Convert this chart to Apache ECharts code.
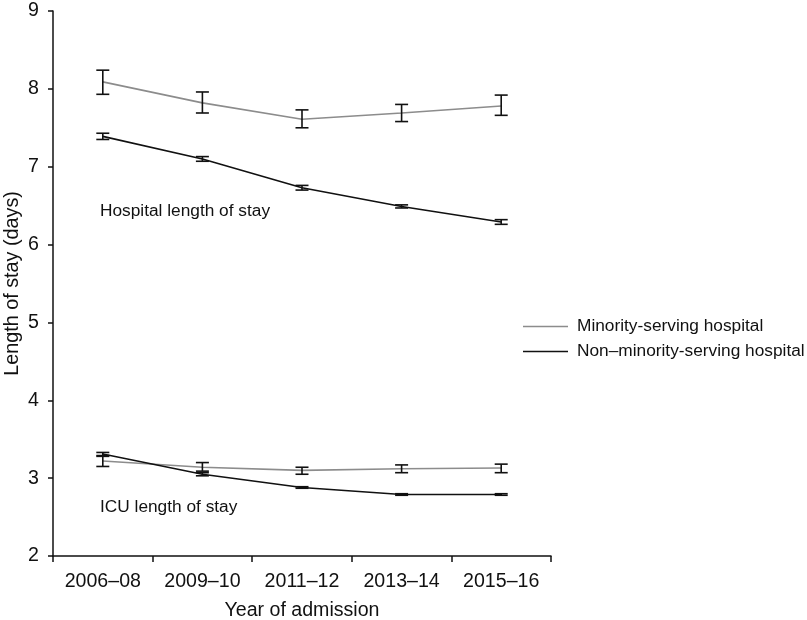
<!DOCTYPE html>
<html><head><meta charset="utf-8">
<script src="https://cdn.jsdelivr.net/npm/echarts@6/dist/echarts.min.js"></script>
<style>html,body{margin:0;padding:0;background:#fff}#c{width:807px;height:620px}</style>
</head><body><div id="c"></div>
<script>
const categories = ['2006–08','2009–10','2011–12','2013–14','2015–16'];
const yTicks = [2,3,4,5,6,7,8,9];
const minorityHosp = [8.09, 7.82, 7.61, 7.69, 7.78];
const minorityHospLow = [7.93, 7.69, 7.50, 7.58, 7.66];
const minorityHospHigh = [8.24, 7.96, 7.73, 7.80, 7.92];
const nonMinHosp = [7.39, 7.10, 6.73, 6.49, 6.29];
const nonMinHospLow = [7.35, 7.07, 6.70, 6.47, 6.26];
const nonMinHospHigh = [7.43, 7.13, 6.76, 6.51, 6.32];
const minorityICU = [3.22, 3.14, 3.10, 3.12, 3.13];
const minorityICULow = [3.15, 3.09, 3.05, 3.07, 3.07];
const minorityICUHigh = [3.29, 3.20, 3.14, 3.17, 3.18];
const nonMinICU = [3.31, 3.05, 2.88, 2.79, 2.79];
const nonMinICULow = [3.28, 3.03, 2.87, 2.78, 2.78];
const nonMinICUHigh = [3.33, 3.07, 2.89, 2.80, 2.80];

const FONT = 'Liberation Sans, Arial, sans-serif';
const chart = echarts.init(document.getElementById('c'));

function errSeries(low, high) {
  return {
    type: 'custom', z: 5,
    data: categories.map((c, i) => [i, low[i], high[i]]),
    renderItem: function (params, api) {
      const lo = api.coord([api.value(0), api.value(1)]);
      const hi = api.coord([api.value(0), api.value(2)]);
      const w = 6.5;
      const st = { stroke: '#111', lineWidth: 1.6, fill: null };
      return { type: 'group', children: [
        { type: 'line', shape: { x1: lo[0], y1: lo[1], x2: hi[0], y2: hi[1] }, style: st },
        { type: 'line', shape: { x1: lo[0]-w, y1: lo[1], x2: lo[0]+w, y2: lo[1] }, style: st },
        { type: 'line', shape: { x1: hi[0]-w, y1: hi[1], x2: hi[0]+w, y2: hi[1] }, style: st }
      ]};
    }
  };
}
function lineSeries(name, data, color) {
  return { type: 'line', name: name, data: data, symbol: 'none', z: 3,
    lineStyle: { color: color, width: 1.6 }, itemStyle: { color: color } };
}

chart.setOption({
  animation: false,
  grid: { left: 53, right: 256, top: 11, bottom: 64, containLabel: false, outerBoundsMode: 'none' },
  legend: {
    data: [
      { name: 'Minority-serving hospital', icon: 'rect', itemStyle: { color: '#8c8c8c' } },
      { name: 'Non–minority-serving hospital', icon: 'rect', itemStyle: { color: '#111' } }
    ],
    orient: 'vertical', left: 523, top: 318, padding: 0,
    itemWidth: 45, itemHeight: 1.6, itemGap: 8,
    textStyle: { fontFamily: FONT, fontSize: 17.3, color: '#111', padding: [0,0,0,4] }
  },
  xAxis: {
    type: 'category', data: categories, boundaryGap: true,
    name: 'Year of admission', nameLocation: 'middle', nameGap: 45, nameMoveOverlap: false,
    nameTextStyle: { fontFamily: FONT, fontSize: 19.6, color: '#111' },
    axisLine: { lineStyle: { color: '#111', width: 1.5 } },
    axisTick: { show: true, length: 6, lineStyle: { color: '#111', width: 1.5 } },
    axisLabel: { fontFamily: FONT, fontSize: 19.6, color: '#111', margin: 16, interval: 0, hideOverlap: false },
    splitLine: { show: false }
  },
  yAxis: {
    type: 'value', min: 2, max: 9, interval: 1,
    name: 'Length of stay (days)', nameLocation: 'middle', nameGap: 30, nameMoveOverlap: false,
    nameTextStyle: { fontFamily: FONT, fontSize: 19.8, color: '#111' },
    axisLine: { show: true, lineStyle: { color: '#111', width: 1.5 } },
    axisTick: { show: true, length: 5, lineStyle: { color: '#111', width: 1.5 } },
    axisLabel: { fontFamily: FONT, fontSize: 19.6, color: '#111', margin: 14,
      formatter: v => yTicks.includes(v) ? String(v) : '' },
    splitLine: { show: false }
  },
  graphic: [
    { type: 'text', left: 100, top: 203, style: { text: 'Hospital length of stay', font: '17.3px ' + FONT, fill: '#111' } },
    { type: 'text', left: 100, top: 499, style: { text: 'ICU length of stay', font: '17.3px ' + FONT, fill: '#111' } }
  ],
  series: [
    lineSeries('Minority-serving hospital', minorityHosp, '#8c8c8c'),
    lineSeries('Minority-serving hospital', minorityICU, '#8c8c8c'),
    lineSeries('Non–minority-serving hospital', nonMinHosp, '#111'),
    lineSeries('Non–minority-serving hospital', nonMinICU, '#111'),
    errSeries(minorityHospLow, minorityHospHigh),
    errSeries(nonMinHospLow, nonMinHospHigh),
    errSeries(minorityICULow, minorityICUHigh),
    errSeries(nonMinICULow, nonMinICUHigh)
  ]
});
</script></body></html>
